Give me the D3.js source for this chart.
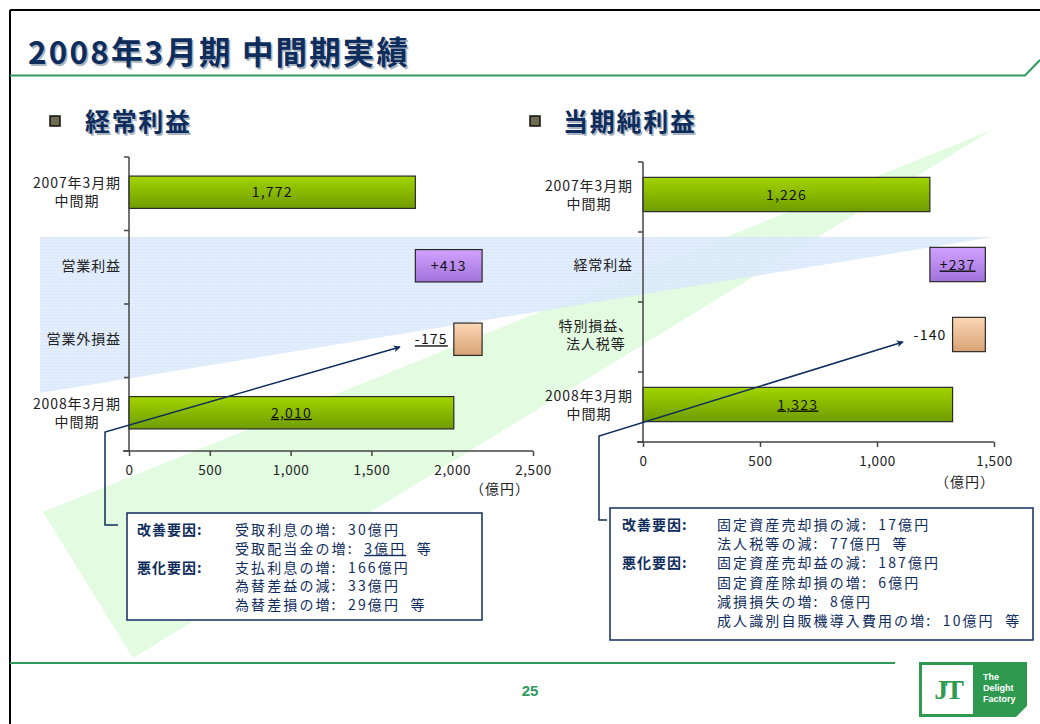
<!DOCTYPE html>
<meta charset="utf-8">
<head>
<style>
body { margin: 0; background: #fff; }
</style>
<script src="https://d3js.org/d3.v7.min.js"></script>
</head>
<body>
<div id="slide"></div>
<script>
// ---- data ----
var ordinaryCats = ["2007年3月期|中間期", "営業利益", "営業外損益", "2008年3月期|中間期"];
var ordinaryValues = [1772, 413, -175, 2010];
var ordinaryUnderline = [false, false, true, true];
var ordinaryTicks = [0, 500, 1000, 1500, 2000, 2500];

var netCats = ["2007年3月期|中間期", "経常利益", "特別損益、|法人税等", "2008年3月期|中間期"];
var netValues = [1226, 237, -140, 1323];
var netUnderline = [false, true, false, true];
var netTicks = [0, 500, 1000, 1500];

var ordinaryNotes = [
  ["改善要因:", "受取利息の増:  30億円"],
  ["", "受取配当金の増:  _3億円_  等"],
  ["悪化要因:", "支払利息の増:  166億円"],
  ["", "為替差益の減:  33億円"],
  ["", "為替差損の増:  29億円  等"]
];
var netNotes = [
  ["改善要因:", "固定資産売却損の減:  17億円"],
  ["", "法人税等の減:  77億円  等"],
  ["悪化要因:", "固定資産売却益の減:  187億円"],
  ["", "固定資産除却損の増:  6億円"],
  ["", "減損損失の増:  8億円"],
  ["", "成人識別自販機導入費用の増:  10億円  等"]
];

var width = 1040, height = 724;
var navy = "#0f2d5c";
var jp = "\"Noto Sans CJK JP\", \"Noto Sans\", sans-serif";

var svg = d3.select("#slide").append("svg")
    .attr("width", width)
    .attr("height", height)
    .style("font-family", jp);

var defs = svg.append("defs");
function vGrad(id, top, bottom) {
  var g = defs.append("linearGradient").attr("id", id)
      .attr("x1", 0).attr("y1", 0).attr("x2", 0).attr("y2", 1);
  g.append("stop").attr("offset", "0%").attr("stop-color", top);
  g.append("stop").attr("offset", "100%").attr("stop-color", bottom);
}
vGrad("gGreen", "#a2d400", "#6f9c00");
vGrad("gPurple", "#d2a2ff", "#a173db");
vGrad("gTan", "#fcd8b6", "#d8a274");

var pat = defs.append("pattern").attr("id", "mesh")
    .attr("width", 3).attr("height", 3).attr("patternUnits", "userSpaceOnUse");
pat.append("rect").attr("width", 3).attr("height", 3).attr("fill", "#e0ecfc");
pat.append("rect").attr("width", 3).attr("height", 1).attr("fill", "#d6e6fa");
pat.append("rect").attr("width", 1).attr("height", 3).attr("fill", "#d8e7fa");

defs.append("marker").attr("id", "arrow")
    .attr("viewBox", "0 0 10 10").attr("refX", 9).attr("refY", 5)
    .attr("markerWidth", 7).attr("markerHeight", 7).attr("markerUnits", "userSpaceOnUse")
    .attr("orient", "auto")
  .append("path").attr("d", "M0,0 L10,5 L0,10 L3,5 Z").attr("fill", navy);

// ---- background decoration ----
svg.append("path")
    .attr("d", "M43,512 L133,658 L992,130 Z")
    .attr("fill", "#e3fbe0");
svg.append("path")
    .attr("d", "M40,237 L993,237 L40,393 Z")
    .attr("fill", "url(#mesh)")
    .attr("opacity", 0.88);

// ---- frame ----
svg.append("line").attr("x1", 10).attr("x2", 1040).attr("y1", 10).attr("y2", 10)
    .attr("stroke", "#000").attr("stroke-width", 2);
svg.append("line").attr("x1", 10).attr("x2", 10).attr("y1", 10).attr("y2", 724)
    .attr("stroke", "#000").attr("stroke-width", 2);
svg.append("path").attr("d", "M10,75.5 L1025,75.5 L1040,60")
    .attr("fill", "none").attr("stroke", "#2f9a5c").attr("stroke-width", 2);
svg.append("line").attr("x1", 10).attr("x2", 895).attr("y1", 663).attr("y2", 663)
    .attr("stroke", "#2f9a5c").attr("stroke-width", 2);

// ---- titles ----
function shadowText(x, y, str, size, len) {
  [["#aab4c0", 1.5], [navy, 0]].forEach(function(s) {
    var t = svg.append("text")
        .attr("x", x + s[1]).attr("y", y + s[1])
        .attr("font-size", size).attr("font-weight", "bold")
        .attr("fill", s[0]).text(str);
    if (len) t.attr("textLength", len).attr("lengthAdjust", "spacing");
  });
}
shadowText(28, 64, "2008年3月期 中間期実績", 31.5, 380);
shadowText(85, 131, "経常利益", 25, 105);
shadowText(563, 131, "当期純利益", 25, 132);

[[50, 116], [530, 116]].forEach(function(p) {
  svg.append("rect").attr("x", p[0]).attr("y", p[1]).attr("width", 10).attr("height", 10)
      .attr("fill", "#6e6b4e").attr("stroke", "#111").attr("stroke-width", 1.5);
});

// ---- waterfall charts ----
function waterfall(values) {
  var run = 0;
  return values.map(function(v, i) {
    if (i === 0 || i === values.length - 1) { run = v; return {a: 0, b: v, v: v, kind: "total"}; }
    var a = run; run += v;
    return {a: Math.min(a, run), b: Math.max(a, run), v: v, kind: v >= 0 ? "up" : "down"};
  });
}

function drawChart(cfg) {
  var g = svg.append("g");
  var x = d3.scaleLinear().domain([0, cfg.ticks[cfg.ticks.length - 1]]).range([cfg.left, cfg.right]);
  var y = d3.scaleBand().domain(cfg.cats).range([cfg.top, cfg.bottom]).padding(0);
  var bh = y.bandwidth() * cfg.barFrac;
  var steps = waterfall(cfg.values);
  var fills = {total: "url(#gGreen)", up: "url(#gPurple)", down: "url(#gTan)"};

  // bars
  g.selectAll("rect.bar").data(steps).enter().append("rect")
      .attr("class", "bar")
      .attr("x", function(d) { return x(d.a); })
      .attr("y", function(d, i) { return y(cfg.cats[i]) + (y.bandwidth() - bh) / 2 - cfg.shift; })
      .attr("width", function(d) { return x(d.b) - x(d.a); })
      .attr("height", bh)
      .attr("fill", function(d) { return fills[d.kind]; })
      .attr("stroke", "#2a2a2a").attr("stroke-width", 1.2);

  // value labels
  g.selectAll("text.val").data(steps).enter().append("text")
      .attr("class", "val")
      .attr("x", function(d) { return d.kind === "down" ? x(d.a) - 6 : (x(d.a) + x(d.b)) / 2; })
      .attr("y", function(d, i) { return y(cfg.cats[i]) + y.bandwidth() / 2 - cfg.shift + 5; })
      .attr("text-anchor", function(d) { return d.kind === "down" ? "end" : "middle"; })
      .attr("font-size", 14).attr("letter-spacing", 1.2).attr("fill", "#111")
      .style("text-decoration", function(d, i) { return cfg.underline[i] ? "underline" : "none"; })
      .text(function(d) {
        if (d.kind === "total") return d3.format(",")(d.v);
        return (d.v > 0 ? "+" : "-") + d3.format(",")(Math.abs(d.v));
      });

  // x axis
  var xAxis = g.append("g").attr("transform", "translate(0," + cfg.bottom + ")")
      .call(d3.axisBottom(x).tickValues(cfg.ticks).tickSize(5).tickSizeOuter(0).tickFormat(d3.format(",")));
  xAxis.select(".domain").attr("stroke", "#444").attr("stroke-width", 1.5)
      .attr("d", "M" + (cfg.left - 6) + ",0H" + cfg.right);
  xAxis.selectAll(".tick line").attr("stroke", "#444").attr("stroke-width", 1.5);
  xAxis.selectAll(".tick text").attr("font-size", 13.5).attr("letter-spacing", 0.6)
      .attr("fill", "#222").attr("dy", "1.2em").style("font-family", jp);

  // y axis with boundary ticks
  g.append("line").attr("x1", cfg.left).attr("x2", cfg.left)
      .attr("y1", cfg.top).attr("y2", cfg.bottom)
      .attr("stroke", "#444").attr("stroke-width", 1.5);
  var bounds = cfg.cats.map(function(c) { return y(c); }).concat([cfg.bottom]);
  g.selectAll("line.yt").data(bounds).enter().append("line")
      .attr("x1", cfg.left - 5).attr("x2", cfg.left)
      .attr("y1", function(d) { return d; }).attr("y2", function(d) { return d; })
      .attr("stroke", "#444").attr("stroke-width", 1.5);

  // category labels (multi-line block right aligned, lines centred)
  cfg.cats.forEach(function(c, i) {
    var lines = c.split("|");
    var cy = y(c) + y.bandwidth() / 2 - cfg.shift;
    var texts = lines.map(function(l, k) {
      return g.append("text")
          .attr("y", cy + (k - (lines.length - 1) / 2) * 18 + 5)
          .attr("font-size", 14).attr("letter-spacing", 0.9).attr("fill", "#222")
          .attr("text-anchor", "middle").text(l);
    });
    var w = d3.max(texts, function(t) { return t.node().getComputedTextLength(); });
    texts.forEach(function(t) { t.attr("x", cfg.labelRight - w / 2); });
  });

  g.append("text").attr("x", cfg.unitX).attr("y", cfg.unitY)
      .attr("text-anchor", "middle").attr("font-size", 14).attr("letter-spacing", 1)
      .attr("fill", "#222").text("（億円）");
}

drawChart({cats: ordinaryCats, values: ordinaryValues, underline: ordinaryUnderline, ticks: ordinaryTicks,
  left: 129, right: 533, top: 157, bottom: 451, barFrac: 0.44, shift: 1.5,
  labelRight: 121, unitX: 500, unitY: 494});
drawChart({cats: netCats, values: netValues, underline: netUnderline, ticks: netTicks,
  left: 643, right: 994, top: 162, bottom: 442, barFrac: 0.49, shift: 2.5,
  labelRight: 633, unitX: 965, unitY: 487});

// ---- callout arrows ----
svg.append("path").attr("d", "M118,525 H105 V432 L400,347")
    .attr("fill", "none").attr("stroke", navy).attr("stroke-width", 1.5)
    .attr("marker-end", "url(#arrow)");
svg.append("path").attr("d", "M607,520 H599 V436 L903,342")
    .attr("fill", "none").attr("stroke", navy).attr("stroke-width", 1.5)
    .attr("marker-end", "url(#arrow)");

// ---- note boxes ----
function noteBox(x0, y0, w, h, rows, headX, textX, firstY, step) {
  svg.append("rect").attr("x", x0).attr("y", y0).attr("width", w).attr("height", h)
      .attr("fill", "#fff").attr("stroke", navy).attr("stroke-width", 1.5);
  rows.forEach(function(r, i) {
    var yy = firstY + i * step;
    if (r[0]) {
      svg.append("text").attr("x", headX).attr("y", yy)
          .attr("font-size", 14).attr("font-weight", "bold").attr("letter-spacing", 1)
          .attr("fill", navy).text(r[0]);
    }
    var t = svg.append("text").attr("x", textX).attr("y", yy)
        .attr("font-size", 14).attr("letter-spacing", 2.1).attr("fill", navy)
        .style("white-space", "pre");
    r[1].split("_").forEach(function(part, k) {
      t.append("tspan").text(part)
          .style("text-decoration", k % 2 === 1 ? "underline" : "none");
    });
  });
}
noteBox(127, 513, 355, 107, ordinaryNotes, 137, 235, 535, 18.8);
noteBox(610, 508, 423, 132, netNotes, 622, 717, 530, 19.2);

// ---- footer ----
svg.append("text").attr("x", 530).attr("y", 696).attr("text-anchor", "middle")
    .attr("font-size", 15).attr("font-weight", "bold").attr("fill", "#2f9a5c")
    .style("font-family", "Arial, 'Liberation Sans', sans-serif").text("25");

var logo = svg.append("g");
logo.append("path").attr("d", "M919,662 H1027 V706 L1016,717 H919 Z").attr("fill", "#2f9a4f");
logo.append("rect").attr("x", 922).attr("y", 665).attr("width", 51).attr("height", 49).attr("fill", "#fff");
logo.append("text").attr("x", 947.5).attr("y", 699).attr("text-anchor", "middle")
    .attr("font-size", 28).attr("font-weight", "bold").attr("fill", "#2f9a4f")
    .style("font-family", "'Liberation Serif', 'DejaVu Serif', serif").attr("letter-spacing", -3)
    .text("JT");
["The", "Delight", "Factory"].forEach(function(s, i) {
  logo.append("text").attr("x", 983).attr("y", 680 + i * 11)
      .attr("font-size", 9).attr("font-weight", "bold").attr("fill", "#fff")
      .style("font-family", "Arial, 'Liberation Sans', sans-serif").text(s);
});
</script>
</body>
